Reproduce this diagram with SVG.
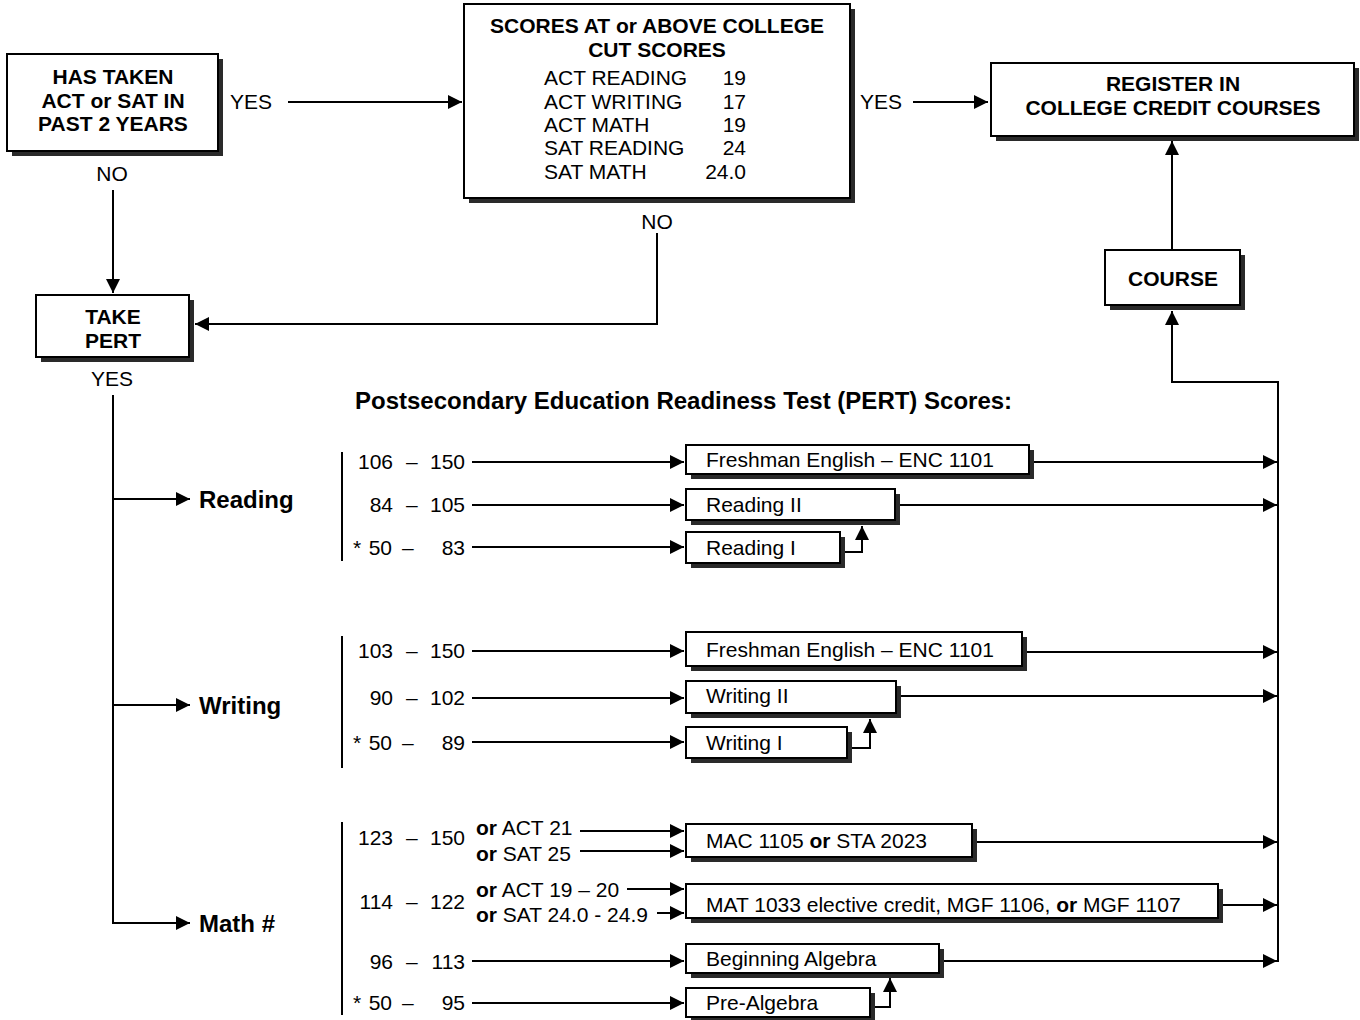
<svg xmlns="http://www.w3.org/2000/svg" width="1360" height="1020" viewBox="0 0 1360 1020">
<defs>
<style>
.sh{fill:#2a2a2a}
.box{fill:#fff;stroke:#000;stroke-width:2}
.t{font-family:"Liberation Sans",Arial,sans-serif;font-size:21px;fill:#000}
.b{font-weight:bold}
.h{font-size:24px}
.c{text-anchor:middle}
.e{text-anchor:end}
.ln{stroke:#000;stroke-width:2;fill:none}
.ar{stroke:#000;stroke-width:2;fill:none;marker-end:url(#ah)}
</style>
<marker id="ah" markerUnits="userSpaceOnUse" markerWidth="15" markerHeight="14" refX="14" refY="7" orient="auto">
<path d="M0,0 L14,7 L0,14 Z" fill="#000"/>
</marker>
</defs>
<rect width="1360" height="1020" fill="#fff"/>

<g id="connectors">
<line class="ar" x1="288" y1="102" x2="462" y2="102"/>
<line class="ar" x1="913" y1="102" x2="988" y2="102"/>
<line class="ar" x1="113" y1="190" x2="113" y2="293"/>
<polyline class="ar" points="657,233 657,324 195,324"/>
<line class="ar" x1="1172" y1="250" x2="1172" y2="141"/>
<polyline class="ar" points="1278,382 1172,382 1172,311"/>
<line class="ln" x1="1278" y1="381" x2="1278" y2="962"/>
<line class="ln" x1="113" y1="395" x2="113" y2="924"/>
<line class="ar" x1="112" y1="499" x2="190" y2="499"/>
<line class="ar" x1="112" y1="705" x2="190" y2="705"/>
<line class="ar" x1="112" y1="923" x2="190" y2="923"/>
<line class="ln" x1="342" y1="452" x2="342" y2="561"/>
<line class="ln" x1="342" y1="636" x2="342" y2="768"/>
<line class="ln" x1="342" y1="822" x2="342" y2="1015"/>
<line class="ar" x1="472" y1="462" x2="684" y2="462"/>
<line class="ar" x1="472" y1="505" x2="684" y2="505"/>
<line class="ar" x1="472" y1="547" x2="684" y2="547"/>
<line class="ar" x1="472" y1="651" x2="684" y2="651"/>
<line class="ar" x1="472" y1="698" x2="684" y2="698"/>
<line class="ar" x1="472" y1="742" x2="684" y2="742"/>
<line class="ar" x1="580" y1="831" x2="684" y2="831"/>
<line class="ar" x1="580" y1="851" x2="684" y2="851"/>
<line class="ar" x1="627" y1="889" x2="684" y2="889"/>
<line class="ar" x1="657" y1="913" x2="684" y2="913"/>
<line class="ar" x1="472" y1="961" x2="684" y2="961"/>
<line class="ar" x1="472" y1="1003" x2="684" y2="1003"/>
<line class="ar" x1="1034" y1="462" x2="1277" y2="462"/>
<line class="ar" x1="900" y1="505" x2="1277" y2="505"/>
<line class="ar" x1="1027" y1="652" x2="1277" y2="652"/>
<line class="ar" x1="901" y1="696" x2="1277" y2="696"/>
<line class="ar" x1="977" y1="842" x2="1277" y2="842"/>
<line class="ar" x1="1223" y1="905" x2="1277" y2="905"/>
<line class="ar" x1="944" y1="961" x2="1277" y2="961"/>
<polyline class="ar" points="845,552 862,552 862,526"/>
<polyline class="ar" points="852,748 870,748 870,719"/>
<polyline class="ar" points="875,1007 890,1007 890,978"/>
</g>

<g id="n-has-taken">
<rect class="sh" x="12" y="59" width="211" height="97"/>
<rect class="box" x="7" y="54" width="211" height="97"/>
<text class="t b c" x="113" y="84">HAS TAKEN</text>
<text class="t b c" x="113" y="108">ACT or SAT IN</text>
<text class="t b c" x="113" y="131">PAST 2 YEARS</text>
</g>
<g id="n-scores">
<rect class="sh" x="469" y="9" width="386" height="194"/>
<rect class="box" x="464" y="4" width="386" height="194"/>
<text class="t b c" x="657" y="33">SCORES AT or ABOVE COLLEGE</text>
<text class="t b c" x="657" y="57">CUT SCORES</text>
<text class="t" x="544" y="85">ACT READING</text><text class="t e" x="746" y="85">19</text>
<text class="t" x="544" y="109">ACT WRITING</text><text class="t e" x="746" y="109">17</text>
<text class="t" x="544" y="132">ACT MATH</text><text class="t e" x="746" y="132">19</text>
<text class="t" x="544" y="155">SAT READING</text><text class="t e" x="746" y="155">24</text>
<text class="t" x="544" y="179">SAT MATH</text><text class="t e" x="746" y="179">24.0</text>
</g>
<g id="n-register">
<rect class="sh" x="996" y="68" width="363" height="73"/>
<rect class="box" x="991" y="63" width="363" height="73"/>
<text class="t b c" x="1173" y="91">REGISTER IN</text>
<text class="t b c" x="1173" y="115">COLLEGE CREDIT COURSES</text>
</g>
<g id="n-course">
<rect class="sh" x="1110" y="255" width="135" height="55"/>
<rect class="box" x="1105" y="250" width="135" height="55"/>
<text class="t b c" x="1173" y="286">COURSE</text>
</g>
<g id="n-take-pert">
<rect class="sh" x="41" y="300" width="153" height="62"/>
<rect class="box" x="36" y="295" width="153" height="62"/>
<text class="t b c" x="113" y="324">TAKE</text>
<text class="t b c" x="113" y="348">PERT</text>
</g>

<g id="labels">
<text class="t" x="230" y="109">YES</text>
<text class="t c" x="112" y="181">NO</text>
<text class="t c" x="657" y="229">NO</text>
<text class="t" x="860" y="109">YES</text>
<text class="t c" x="112" y="386">YES</text>
<text class="t b h" x="355" y="409">Postsecondary Education Readiness Test (PERT) Scores:</text>
<text class="t b h" x="199" y="508">Reading</text>
<text class="t b h" x="199" y="714">Writing</text>
<text class="t b h" x="199" y="932">Math #</text>

<text class="t e" x="393" y="469">106</text><text class="t" x="406" y="469">–</text><text class="t e" x="465" y="469">150</text>
<text class="t e" x="393" y="512">84</text><text class="t" x="406" y="512">–</text><text class="t e" x="465" y="512">105</text>
<text class="t" x="353" y="555">*</text><text class="t e" x="392" y="555">50</text><text class="t" x="402" y="555">–</text><text class="t e" x="465" y="555">83</text>

<text class="t e" x="393" y="658">103</text><text class="t" x="406" y="658">–</text><text class="t e" x="465" y="658">150</text>
<text class="t e" x="393" y="705">90</text><text class="t" x="406" y="705">–</text><text class="t e" x="465" y="705">102</text>
<text class="t" x="353" y="750">*</text><text class="t e" x="392" y="750">50</text><text class="t" x="402" y="750">–</text><text class="t e" x="465" y="750">89</text>

<text class="t e" x="393" y="845">123</text><text class="t" x="406" y="845">–</text><text class="t e" x="465" y="845">150</text>
<text class="t" x="476" y="835"><tspan class="b">or</tspan> ACT 21</text>
<text class="t" x="476" y="861"><tspan class="b">or</tspan> SAT 25</text>
<text class="t e" x="393" y="909">114</text><text class="t" x="406" y="909">–</text><text class="t e" x="465" y="909">122</text>
<text class="t" x="476" y="897"><tspan class="b">or</tspan> ACT 19 – 20</text>
<text class="t" x="476" y="922"><tspan class="b">or</tspan> SAT 24.0 - 24.9</text>
<text class="t e" x="393" y="969">96</text><text class="t" x="406" y="969">–</text><text class="t e" x="465" y="969">113</text>
<text class="t" x="353" y="1010">*</text><text class="t e" x="392" y="1010">50</text><text class="t" x="402" y="1010">–</text><text class="t e" x="465" y="1010">95</text>
</g>

<g id="n-r-fe">
<rect class="sh" x="691" y="450" width="343" height="29"/>
<rect class="box" x="686" y="445" width="343" height="29"/>
<text class="t" x="706" y="467">Freshman English – ENC 1101</text>
</g>
<g id="n-r2">
<rect class="sh" x="691" y="494" width="209" height="31"/>
<rect class="box" x="686" y="489" width="209" height="31"/>
<text class="t" x="706" y="512">Reading II</text>
</g>
<g id="n-r1">
<rect class="sh" x="691" y="537" width="154" height="31"/>
<rect class="box" x="686" y="532" width="154" height="31"/>
<text class="t" x="706" y="555">Reading I</text>
</g>
<g id="n-w-fe">
<rect class="sh" x="691" y="637" width="336" height="34"/>
<rect class="box" x="686" y="632" width="336" height="34"/>
<text class="t" x="706" y="657">Freshman English – ENC 1101</text>
</g>
<g id="n-w2">
<rect class="sh" x="691" y="686" width="210" height="32"/>
<rect class="box" x="686" y="681" width="210" height="32"/>
<text class="t" x="706" y="703">Writing II</text>
</g>
<g id="n-w1">
<rect class="sh" x="691" y="732" width="161" height="31"/>
<rect class="box" x="686" y="727" width="161" height="31"/>
<text class="t" x="706" y="750">Writing I</text>
</g>
<g id="n-mac">
<rect class="sh" x="691" y="829" width="286" height="33"/>
<rect class="box" x="686" y="824" width="286" height="33"/>
<text class="t" x="706" y="848">MAC 1105 <tspan class="b">or</tspan> STA 2023</text>
</g>
<g id="n-mat">
<rect class="sh" x="691" y="889" width="532" height="34"/>
<rect class="box" x="686" y="884" width="532" height="34"/>
<text class="t" x="706" y="912">MAT 1033 elective credit, MGF 1106, <tspan class="b">or</tspan> MGF 1107</text>
</g>
<g id="n-ba">
<rect class="sh" x="691" y="949" width="253" height="29"/>
<rect class="box" x="686" y="944" width="253" height="29"/>
<text class="t" x="706" y="966">Beginning Algebra</text>
</g>
<g id="n-pa">
<rect class="sh" x="691" y="993" width="184" height="29"/>
<rect class="box" x="686" y="988" width="184" height="29"/>
<text class="t" x="706" y="1010">Pre-Algebra</text>
</g>
</svg>
